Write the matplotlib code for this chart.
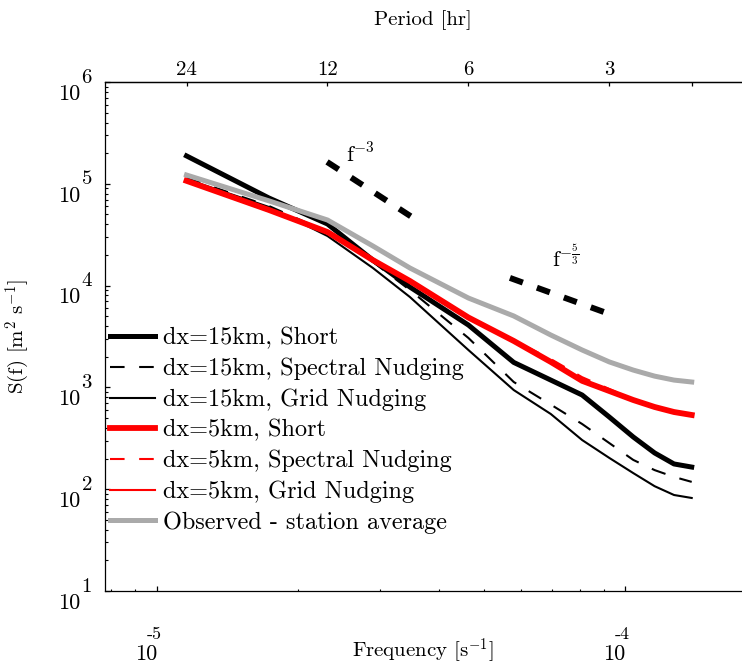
import numpy as np
import matplotlib.pyplot as plt
from matplotlib.ticker import LogLocator, FixedLocator, NullLocator, NullFormatter

plt.rcParams['font.family'] = ['cmr10', 'DejaVu Serif']
plt.rcParams['mathtext.fontset'] = 'cm'
plt.rcParams['axes.unicode_minus'] = False
plt.rcParams['axes.formatter.use_mathtext'] = True

# frequencies [1/s] (harmonics of a 48 h window)
freq = [1.157e-5, 1.736e-5, 2.315e-5, 2.894e-5, 3.472e-5, 4.630e-5, 5.787e-5,
        6.944e-5, 8.102e-5, 9.259e-5, 1.0417e-4, 1.1574e-4, 1.2731e-4, 1.3889e-4]

# spectra S(f) [m2 s-1]
dx15_short = [1.88e5, 7.25e4, 4.03e4, 1.78e4, 9.69e3, 4.10e3, 1.76e3,
              1.18e3, 842, 512, 326, 227, 177, 165]
dx15_spec = [1.14e5, 6.05e4, 3.36e4, 1.71e4, 9.05e3, 3.06e3, 1.13e3,
             678, 437, 284, 194, 154, 132, 118]
dx15_grid = [1.11e5, 5.92e4, 3.07e4, 1.49e4, 7.73e3, 2.33e3, 942,
             548, 304, 203, 144, 107, 87.7, 82]
dx5_short = [1.07e5, 5.53e4, 3.36e4, 1.78e4, 1.11e4, 4.86e3, 2.86e3,
             1.78e3, 1.16e3, 922, 752, 642, 573, 536]
dx5_spec = [1.07e5, 5.50e4, 3.30e4, 1.76e4, 1.10e4, 4.90e3, 2.90e3,
            1.90e3, 1.26e3, 965, 760, 645, 575, 540]
dx5_grid = [1.05e5, 5.40e4, 3.30e4, 1.75e4, 1.08e4, 4.80e3, 2.82e3,
            1.76e3, 1.15e3, 915, 745, 636, 568, 530]
observed = [1.22e5, 6.80e4, 4.41e4, 2.45e4, 1.49e4, 7.55e3, 5.03e3,
            3.27e3, 2.33e3, 1.78e3, 1.48e3, 1.29e3, 1.18e3, 1.13e3]

# reference slopes
slope3_f = [2.31e-5, 3.506e-5]
slope3_s = [1.64e5, 4.72e4]
slope53_f = [5.68e-5, 9.14e-5]
slope53_s = [1.19e4, 5.38e3]

period_ticks = [24, 12, 6, 3, 2]
period_labels = ['24', '12', '6', '3', '']

fig = plt.figure(figsize=(7.42, 6.67), dpi=100)
ax = fig.add_axes([104.5 / 742, 76 / 667, 636.5 / 742, 509 / 667])

red = '#ff0000'
grey = '#aaaaaa'
dash = (0, (7, 7))

ax.plot(freq, dx15_short, color='k', lw=3.6, label='dx=15km, Short')
ax.plot(freq, dx15_spec, color='k', lw=1.5, ls=dash, label='dx=15km, Spectral Nudging')
ax.plot(freq, dx15_grid, color='k', lw=1.5, label='dx=15km, Grid Nudging')
ax.plot(freq, dx5_short, color=red, lw=4.2, label='dx=5km, Short')
ax.plot(freq, dx5_spec, color=red, lw=1.5, ls=dash, label='dx=5km, Spectral Nudging')
ax.plot(freq, dx5_grid, color=red, lw=1.5, label='dx=5km, Grid Nudging')
ax.plot(freq, observed, color=grey, lw=3.6, label='Observed - station average')

ax.plot(slope3_f, slope3_s, color='k', lw=4.3, ls=(0, (2.3, 2.5)))
ax.plot(slope53_f, slope53_s, color='k', lw=4.3, ls=(0, (2.3, 2.5)))
ax.text(2.54e-5, 1.95e5, r'f$^{-3}$', fontsize=16, ha='left', va='center')
ax.text(6.98e-5, 1.85e4, r'f$^{-\frac{5}{3}}$', fontsize=16, ha='left', va='center')

ax.set_xscale('log')
ax.set_yscale('log')
ax.set_xlim(7.73e-6, 1.77e-4)
ax.set_ylim(1e1, 1e6)

ax.spines['right'].set_visible(False)
for s in ax.spines.values():
    s.set_linewidth(0.9)
ax.xaxis.set_major_locator(LogLocator(base=10))
ax.yaxis.set_major_locator(LogLocator(base=10))
ax.xaxis.set_minor_locator(LogLocator(base=10, subs=np.arange(2, 10)))
ax.yaxis.set_minor_locator(LogLocator(base=10, subs=np.arange(2, 10)))
ax.xaxis.set_major_formatter(NullFormatter())
ax.yaxis.set_major_formatter(NullFormatter())
ax.xaxis.set_minor_formatter(NullFormatter())
ax.yaxis.set_minor_formatter(NullFormatter())
ax.tick_params(which='both', direction='in', top=False, right=False)
ax.tick_params(which='major', length=3.4, width=0.9)
ax.tick_params(which='minor', length=1.8, width=0.8)

# matlab-style tick labels
ytr = ax.get_yaxis_transform()
for k in range(1, 7):
    ax.annotate('10', xy=(0, 10.0 ** k), xycoords=ytr, xytext=(-17.6, -8.6),
                textcoords='offset points', ha='right', va='center', fontsize=16)
    ax.annotate(str(k), xy=(0, 10.0 ** k), xycoords=ytr, xytext=(-16.5, 3.2),
                textcoords='offset points', ha='left', va='center', fontsize=15)
xtr = ax.get_xaxis_transform()
for k in (-5, -4):
    ax.annotate('10', xy=(10.0 ** k, 0), xycoords=xtr, xytext=(0, -45.5),
                textcoords='offset points', ha='right', va='center', fontsize=16)
    ax.annotate(str(k), xy=(10.0 ** k, 0), xycoords=xtr, xytext=(-7.2, -31),
                textcoords='offset points', ha='left', va='center', fontsize=13)

# top axis: period in hours
top = ax.twiny()
top.set_xscale('log')
top.set_xlim(ax.get_xlim())
top.xaxis.set_major_locator(FixedLocator([1 / (3600.0 * p) for p in period_ticks]))
top.xaxis.set_minor_locator(NullLocator())
top.set_xticklabels(period_labels)
top.tick_params(axis='x', direction='in', length=3.2, width=0.9, pad=2, labelsize=15)
for side in ('right', 'left', 'bottom'):
    top.spines[side].set_visible(False)
top.spines['top'].set_linewidth(0.9)

ax.legend(loc='upper left', bbox_to_anchor=(0.0086, 0.518), frameon=False, fontsize=17.5,
          handlelength=1.85, handletextpad=0.33, labelspacing=0.34,
          borderaxespad=0, borderpad=0)

fig.text(423 / 742, 1 - 651 / 667, r'Frequency [s$^{-1}$]', fontsize=15, ha='center', va='center')
fig.text(423 / 742, 1 - 20 / 667, 'Period [hr]', fontsize=15, ha='center', va='center')
fig.text(18 / 742, 1 - 336 / 667, r'S(f) [m$^{2}$ s$^{-1}$]', fontsize=15, ha='center',
         va='center', rotation=90)

fig.savefig('out.png', dpi=100)
